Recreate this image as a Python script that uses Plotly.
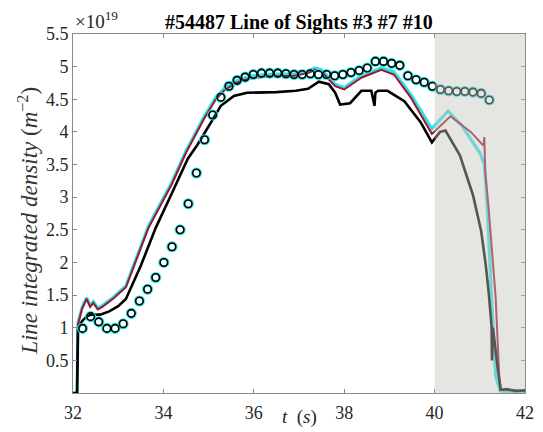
import plotly.graph_objects as go

# ---- data ----
t_black = [32.0, 32.09, 32.11, 32.2, 32.3, 32.4, 32.6, 32.8, 33.0, 33.17, 33.5, 33.83, 34.2, 34.54,
           34.75, 34.98, 35.1, 35.27, 35.56, 35.85, 36.1, 36.5, 36.93, 37.2, 37.44, 37.66, 37.8, 37.91,
           38.13, 38.38, 38.6, 38.65, 38.67, 38.69, 38.75, 38.96, 39.33, 39.69, 39.94, 40.12, 40.24,
           40.56, 40.85, 41.03, 41.13, 41.2, 41.26, 41.27, 41.29, 41.4, 41.46, 41.6, 41.8, 42.0]
v_black = [0.0, 0.0, 0.98, 1.1, 1.17, 1.2, 1.2, 1.25, 1.33, 1.44, 1.95, 2.53, 3.08, 3.59,
           3.8, 4.05, 4.2, 4.4, 4.55, 4.6, 4.6, 4.61, 4.63, 4.66, 4.77, 4.73, 4.6, 4.42,
           4.44, 4.63, 4.63, 4.47, 4.40, 4.6, 4.63, 4.63, 4.47, 4.15, 3.84, 4.0, 4.02,
           3.64, 3.03, 2.48, 1.97, 1.52, 1.02, 0.5, 1.0, 0.36, 0.05, 0.06, 0.03, 0.04]

t_red = [32.0, 32.09, 32.11, 32.2, 32.3, 32.38, 32.45, 32.55, 32.65, 32.9, 33.17, 33.53, 33.67, 34.18,
         34.5, 34.9, 35.16, 35.34, 35.6, 35.9, 36.3, 36.9, 37.2, 37.35, 37.5, 37.8, 38.0, 38.38,
         38.82, 39.1, 39.47, 39.94, 40.35, 40.8, 41.08, 41.1, 41.12, 41.2, 41.35, 41.43, 41.47, 42.0]
v_red = [0.0, 0.0, 1.05, 1.29, 1.44, 1.32, 1.38, 1.28, 1.32, 1.45, 1.62, 2.28, 2.53, 3.19,
         3.68, 4.2, 4.5, 4.63, 4.75, 4.82, 4.85, 4.86, 4.9, 4.95, 4.92, 4.70, 4.65, 4.83,
         4.95, 4.88, 4.53, 3.97, 4.24, 4.0, 3.79, 3.92, 3.4, 2.79, 1.47, 0.26, 0.05, 0.03]

t_cyan = [32.0, 32.09, 32.11, 32.2, 32.3, 32.38, 32.45, 32.55, 32.65, 32.9, 33.17, 33.53, 33.67, 34.18,
          34.5, 34.9, 35.16, 35.34, 35.6, 35.9, 36.3, 36.9, 37.2, 37.35, 37.5, 37.8, 38.0, 38.38,
          38.82, 39.1, 39.47, 39.94, 40.3, 40.6, 41.0, 41.1, 41.17, 41.25, 41.35, 41.45, 42.0]
v_cyan = [0.0, 0.0, 1.07, 1.31, 1.46, 1.34, 1.40, 1.30, 1.34, 1.47, 1.64, 2.31, 2.56, 3.22,
          3.71, 4.23, 4.53, 4.66, 4.78, 4.85, 4.88, 4.89, 4.93, 4.98, 4.95, 4.73, 4.68, 4.86,
          4.98, 4.92, 4.58, 4.05, 4.32, 4.1, 3.68, 3.5, 2.79, 1.6, 0.26, 0.03, 0.02]

t_circ = [32.21, 32.39, 32.57, 32.75, 32.93, 33.11, 33.29, 33.47, 33.65, 33.83, 34.01, 34.19, 34.37,
          34.55, 34.73, 34.91, 35.09, 35.27, 35.45, 35.63, 35.81, 35.99, 36.17, 36.35, 36.53, 36.71,
          36.89, 37.07, 37.25, 37.43, 37.61, 37.79, 37.97, 38.15, 38.33, 38.51, 38.69, 38.87, 39.05,
          39.23, 39.41, 39.59, 39.77, 39.95, 40.13, 40.31, 40.49, 40.67, 40.85, 41.03, 41.21]
v_circ = [0.99, 1.17, 1.09, 0.99, 0.99, 1.06, 1.22, 1.41, 1.59, 1.77, 2.00, 2.24, 2.50,
          2.90, 3.37, 3.88, 4.26, 4.53, 4.70, 4.79, 4.84, 4.88, 4.90, 4.90, 4.90, 4.89,
          4.88, 4.88, 4.89, 4.88, 4.88, 4.86, 4.88, 4.91, 4.94, 4.98, 5.08, 5.08, 5.05,
          5.02, 4.86, 4.80, 4.76, 4.70, 4.65, 4.63, 4.62, 4.62, 4.61, 4.59, 4.49]

x_ticks = [32, 34, 36, 38, 40, 42]
y_ticks = [0.5, 1, 1.5, 2, 2.5, 3, 3.5, 4, 4.5, 5, 5.5]
y_tick_text = ["0.5", "1", "1.5", "2", "2.5", "3", "3.5", "4", "4.5", "5", "5.5"]
shade_range = [40, 42]

title_text = "<b>#54487 Line of Sights #3 #7 #10</b>"

FONT = "Liberation Serif, Times New Roman, serif"
CYAN = "#2EE3E8"
CRIMSON = "#A2142F"

fig = go.Figure()
fig.add_trace(go.Scatter(x=t_cyan, y=v_cyan, mode="lines",
                         line=dict(color=CYAN, width=3.2), hoverinfo="skip"))
fig.add_trace(go.Scatter(x=t_red, y=v_red, mode="lines",
                         line=dict(color=CRIMSON, width=2), hoverinfo="skip"))
fig.add_trace(go.Scatter(x=t_black, y=v_black, mode="lines",
                         line=dict(color="black", width=2.6), hoverinfo="skip"))
fig.add_trace(go.Scatter(x=t_circ, y=v_circ, mode="markers",
                         marker=dict(symbol="circle-open", size=8.5, color=CYAN,
                                     line=dict(width=2.6, color=CYAN)), hoverinfo="skip"))
fig.add_trace(go.Scatter(x=t_circ, y=v_circ, mode="markers",
                         marker=dict(symbol="circle-open", size=7.5, color="black",
                                     line=dict(width=1.6, color="black")), hoverinfo="skip"))

fig.add_shape(type="rect", xref="x", yref="y", x0=shade_range[0], x1=shade_range[1],
              y0=0, y1=5.5, fillcolor="rgba(196,196,188,0.44)", line=dict(width=0),
              layer="above")

axis_common = dict(showline=True, linecolor="#8a8a8a", linewidth=1, mirror="ticks",
                   ticks="inside", ticklen=4, tickcolor="#8a8a8a", showgrid=False,
                   zeroline=False, tickfont=dict(family=FONT, size=18, color="#262626"))

fig.update_layout(
    width=543, height=432,
    margin=dict(l=73, r=9, t=34, b=35),
    paper_bgcolor="white", plot_bgcolor="white",
    showlegend=False,
    xaxis=dict(range=[32, 42], tickvals=x_ticks, ticklabelstandoff=3, **axis_common),
    yaxis=dict(range=[0, 5.5], tickvals=y_ticks, ticktext=y_tick_text, **axis_common),
    annotations=[
        dict(text=title_text, x=0.5, y=1.033, xref="paper", yref="paper",
             xanchor="center", yanchor="middle", showarrow=False,
             font=dict(family=FONT, size=20, color="black")),
        dict(text="×10<sup>19</sup>", x=0.0, y=1.04, xref="paper", yref="paper",
             xanchor="left", yanchor="middle", showarrow=False,
             font=dict(family=FONT, size=19, color="#262626")),
        dict(text="<i>t</i>  (<i>s</i>)", x=0.5, y=-0.066, xref="paper", yref="paper",
             xanchor="center", yanchor="middle", showarrow=False,
             font=dict(family=FONT, size=19, color="#262626")),
        dict(text="<i>Line integrated density</i> (<i>m</i><sup>−2</sup>)",
             x=-0.1, y=0.479, xref="paper", yref="paper", textangle=-90,
             xanchor="center", yanchor="middle", showarrow=False,
             font=dict(family=FONT, size=23, color="#333333")),
    ],
)

fig.write_html("out.html")
